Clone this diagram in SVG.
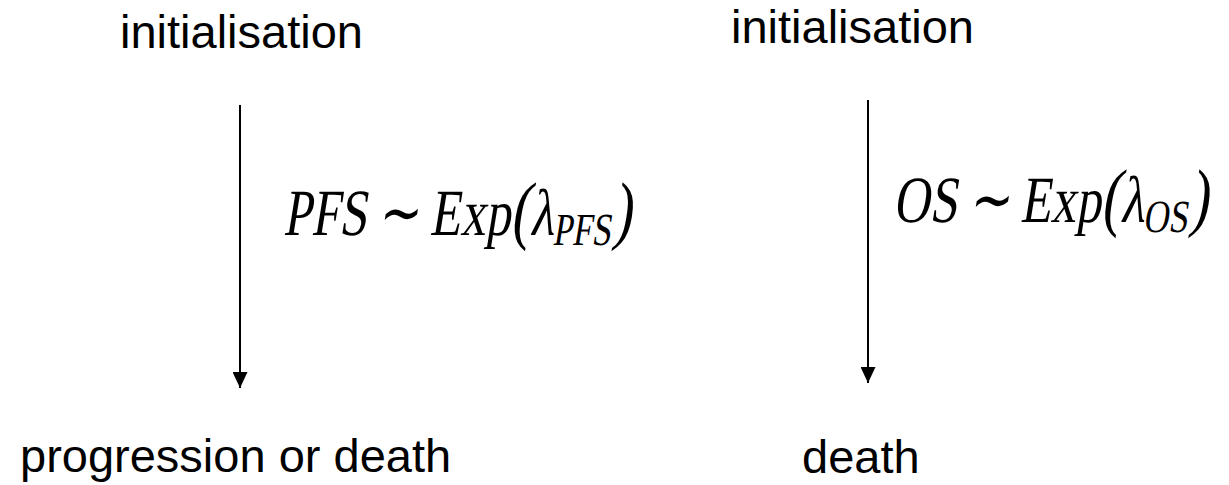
<svg xmlns="http://www.w3.org/2000/svg" width="1229" height="485" viewBox="0 0 1229 485">
<style>
.lbl{font-family:"Liberation Sans",Arial,sans-serif;font-size:47px;fill:#000}
.math{font-family:"Liberation Serif","Times New Roman",serif;font-size:66px;font-style:normal;fill:#000}
.sub{font-size:46px}
.par{font-size:76px}
.edge{stroke:#000;stroke-width:2;fill:none}
</style>
<defs>
<marker id="ah" markerUnits="userSpaceOnUse" markerWidth="15" markerHeight="16" viewBox="0 0 15 16" refX="7.5" refY="16" orient="0">
<path d="M0,0 L15,0 L7.5,16 Z" fill="#000"/>
</marker>
</defs>
<rect width="1229" height="485" fill="#fff"/>
<g id="left-init"><text class="lbl" x="120" y="48">initialisation</text></g>
<g id="right-init"><text class="lbl" x="731" y="43">initialisation</text></g>
<g id="left-end"><text class="lbl" x="20" y="472">progression or death</text></g>
<g id="right-end"><text class="lbl" x="802" y="473">death</text></g>
<g id="connectors">
<line class="edge" x1="240" y1="105" x2="240" y2="388" marker-end="url(#ah)"/>
<line class="edge" x1="868" y1="100" x2="868" y2="383" marker-end="url(#ah)"/>
</g>
<g id="left-formula" transform="translate(283,235) scale(0.76,1) skewX(-12)"><text class="math" font-family="Liberation Serif, serif" x="0" y="0">PFS<tspan dx="14">∼</tspan><tspan dx="14">Exp</tspan><tspan class="par">(</tspan><tspan>λ</tspan><tspan class="sub" dy="10">PFS</tspan><tspan class="par" dy="-10">)</tspan></text></g>
<g id="right-formula" transform="translate(893,222) scale(0.76,1) skewX(-12)"><text class="math" font-family="Liberation Serif, serif" x="0" y="0">OS<tspan dx="14">∼</tspan><tspan dx="14">Exp</tspan><tspan class="par">(</tspan><tspan>λ</tspan><tspan class="sub" dy="10">OS</tspan><tspan class="par" dy="-10">)</tspan></text></g>
</svg>
